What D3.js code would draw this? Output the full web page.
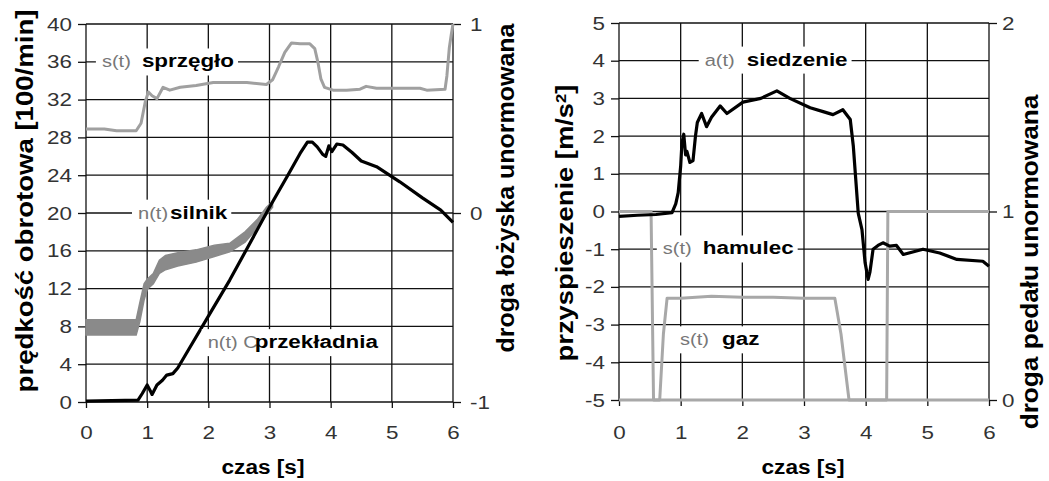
<!DOCTYPE html>
<html>
<head>
<meta charset="utf-8">
<script src="https://cdn.jsdelivr.net/npm/d3@7"></script>
<style>
  body { margin: 0; background: #fff; }
  svg text { font-family: "Liberation Sans", Arial, sans-serif; }
</style>
</head>
<body>
<svg width="1049" height="481"></svg>
<script>
// ---- data ----
var xTicks = [0, 1, 2, 3, 4, 5, 6];
var obrotyTicks = [0, 4, 8, 12, 16, 20, 24, 28, 32, 36, 40];
var lozyskoTicks = [-1, 0, 1];
var przyspTicks = [-5, -4, -3, -2, -1, 0, 1, 2, 3, 4, 5];
var pedalTicks = [0, 1, 2];

// s(t) sprzęgło, droga łożyska unormowana (right axis of left panel)
var tSprzeglo = [0, 0.3, 0.5, 0.82, 0.9, 0.97, 1.02, 1.08, 1.16, 1.26, 1.37, 1.54, 1.8, 2.08, 2.63, 2.95, 3.05, 3.15, 3.25, 3.36, 3.5, 3.66, 3.74, 3.79, 3.84, 3.9, 4.04, 4.26, 4.48, 4.58, 4.75, 5.46, 5.57, 5.87, 5.9, 5.94, 5.97, 6.0];
var sSprzeglo = [0.445, 0.445, 0.435, 0.435, 0.475, 0.59, 0.64, 0.62, 0.605, 0.665, 0.65, 0.665, 0.675, 0.69, 0.69, 0.68, 0.705, 0.775, 0.85, 0.9, 0.895, 0.895, 0.87, 0.8, 0.71, 0.665, 0.65, 0.65, 0.655, 0.67, 0.66, 0.66, 0.65, 0.655, 0.725, 0.875, 0.94, 1.0];

// n(t) silnik, noisy band [100/min]
var tSilnik = [0, 0.82, 0.88, 0.95, 1.0, 1.1, 1.2, 1.3, 1.5, 1.8, 2.1, 2.35, 2.6, 2.8, 2.95, 3.05];
var silnikLo = [7.1, 7.1, 8.5, 10.8, 11.9, 12.5, 13.6, 14.0, 14.4, 14.8, 15.4, 15.9, 16.9, 18.4, 19.8, 20.6];
var silnikHi = [8.7, 8.7, 10.5, 12.5, 13.0, 13.6, 15.0, 15.5, 15.8, 16.1, 16.6, 16.8, 18.0, 19.3, 20.6, 21.2];

// n(t) przekładnia [100/min]
var tPrzekladnia = [0, 0.85, 0.92, 1.0, 1.05, 1.08, 1.16, 1.25, 1.32, 1.42, 1.5, 1.7, 2.03, 2.35, 2.68, 3.0, 3.3, 3.5, 3.62, 3.7, 3.78, 3.87, 3.92, 3.97, 4.02, 4.1, 4.2, 4.35, 4.5, 4.75, 5.13, 5.5, 5.8, 6.0];
var nPrzekladnia = [0.1, 0.2, 0.9, 1.8, 1.2, 0.8, 1.8, 2.3, 2.85, 3.0, 3.6, 5.8, 9.4, 12.9, 16.8, 20.6, 24.0, 26.3, 27.5, 27.5, 27.0, 26.2, 26.0, 27.1, 26.5, 27.3, 27.2, 26.4, 25.5, 24.9, 23.3, 21.6, 20.3, 19.0];

// a(t) siedzenie [m/s2]
var tSiedzenie = [0, 0.3, 0.6, 0.86, 0.92, 0.96, 1.0, 1.02, 1.05, 1.08, 1.1, 1.15, 1.2, 1.24, 1.27, 1.34, 1.42, 1.5, 1.64, 1.75, 2.01, 2.3, 2.56, 2.77, 3.1, 3.31, 3.47, 3.63, 3.75, 3.8, 3.88, 3.94, 3.99, 4.04, 4.07, 4.12, 4.2, 4.28, 4.39, 4.5, 4.61, 4.93, 5.2, 5.48, 5.9, 6.0];
var aSiedzenie = [-0.13, -0.1, -0.08, -0.03, 0.2, 0.5, 1.2, 1.8, 2.05, 1.5, 1.6, 1.3, 1.35, 2.0, 2.36, 2.6, 2.25, 2.5, 2.8, 2.6, 2.9, 3.0, 3.2, 3.0, 2.75, 2.65, 2.57, 2.7, 2.44, 1.73, -0.05, -0.48, -1.35, -1.8, -1.6, -1.0, -0.9, -0.83, -0.92, -0.9, -1.14, -1.0, -1.1, -1.27, -1.32, -1.45];

// s(t) hamulec and s(t) gaz, droga pedału unormowana
var tHamulec = [0, 0.52, 0.56, 4.34, 4.36, 6.0];
var sHamulec = [1, 1, 0, 0, 1, 1];
var tGaz = [0, 0.66, 0.72, 0.78, 1.0, 1.5, 2.0, 2.5, 3.0, 3.5, 3.6, 3.73, 6.0];
var sGaz = [0, 0, 0.35, 0.54, 0.54, 0.55, 0.545, 0.545, 0.54, 0.54, 0.35, 0, 0];

var SX = 1.18;   // lettering in the scan is stretched sideways
var svg = d3.select("svg");

function zip(a, b) { return a.map(function(v, i) { return [v, b[i]]; }); }

// set up one panel: grid, axes, scales
function panel(p) {
  var x = d3.scaleLinear().domain([0, 6]).range([p.x0, p.x1]);
  var y = d3.scaleLinear().domain([p.yTicks[0], p.yTicks[p.yTicks.length - 1]]).range([p.y0, p.y1]);
  var y2 = d3.scaleLinear().domain([p.y2Ticks[0], p.y2Ticks[p.y2Ticks.length - 1]]).range([p.y0, p.y1]);
  var g = svg.append("g");

  g.selectAll(".vg").data(xTicks).enter().append("line")
      .attr("x1", function(d) { return x(d); }).attr("x2", function(d) { return x(d); })
      .attr("y1", p.y0).attr("y2", p.y1)
      .attr("stroke", "#111").attr("stroke-width", 1.3);
  g.selectAll(".hg").data(p.yTicks).enter().append("line")
      .attr("x1", p.x0).attr("x2", p.x1)
      .attr("y1", function(d) { return y(d); }).attr("y2", function(d) { return y(d); })
      .attr("stroke", "#111").attr("stroke-width", 1.3);

  function styleAxis(a) {
    a.attr("font-size", 19).attr("font-family", null);
    a.select(".domain").remove();
    a.selectAll("line").attr("stroke", "#111").attr("stroke-width", 1.3);
    a.selectAll("text").attr("fill", "#333").attr("transform", "scale(" + SX + ",1)");
  }

  g.append("g").attr("transform", "translate(0," + p.y0 + ")")
      .call(d3.axisBottom(x).tickValues(xTicks).tickSize(6).tickPadding(p.bottomPad).tickFormat(String))
      .call(styleAxis);
  g.append("g").attr("transform", "translate(" + p.x0 + ",0)")
      .call(d3.axisLeft(y).tickValues(p.yTicks).tickSize(8).tickPadding(4).tickFormat(String))
      .call(styleAxis);
  g.append("g").attr("transform", "translate(" + p.x1 + ",0)")
      .call(d3.axisRight(y2).tickValues(p.y2Ticks).tickSize(8).tickPadding(p.rightPad).tickFormat(String))
      .call(styleAxis);

  return { x: x, y: y, y2: y2, g: g };
}

function curve(g, x, y, pts, color, w) {
  g.append("path")
      .datum(pts)
      .attr("fill", "none")
      .attr("stroke", color)
      .attr("stroke-width", w)
      .attr("stroke-linejoin", "round")
      .attr("d", d3.line().x(function(d) { return x(d[0]); }).y(function(d) { return y(d[1]); }));
}

// "s(t) name" tags sitting on white boxes
function tag(g, px, py, grayTxt, boldTxt, gap) {
  var box = g.append("rect").attr("fill", "#fff");
  var t1 = g.append("text").attr("transform", "translate(" + px + "," + py + ") scale(" + SX + ",1)")
      .attr("font-size", 17).attr("fill", "#777").text(grayTxt);
  var t2 = g.append("text").attr("transform", "translate(" + (px + gap) + "," + py + ") scale(" + SX + ",1)")
      .attr("font-size", 19).attr("font-weight", "bold").attr("fill", "#000").text(boldTxt);
  var w = gap + t2.node().getComputedTextLength() * SX;
  box.attr("x", px - 6).attr("y", py - 19).attr("width", w + 10).attr("height", 27);
}

// axis titles, fitted to the length they have in the scan
function title(cx, cy, rot, len, size, parts) {
  var t = svg.append("text")
      .attr("text-anchor", "middle")
      .attr("font-size", size).attr("font-weight", "bold").attr("dy", "0.35em");
  parts.forEach(function(p) {
    var s = t.append("tspan").text(p.text);
    if (p.sup) s.attr("font-size", 14).attr("baseline-shift", "super");
  });
  var k = len / t.node().getComputedTextLength();
  t.attr("transform", "translate(" + cx + "," + cy + ") rotate(" + rot + ") scale(" + k + ",1)");
}

// ---- left panel ----
var L = panel({ x0: 86, x1: 453, y0: 402, y1: 24, yTicks: obrotyTicks, y2Ticks: lozyskoTicks, bottomPad: 18, rightPad: 6.5 });
curve(L.g, L.x, L.y2, zip(tSprzeglo, sSprzeglo), "#a0a0a0", 3);
L.g.append("path")
    .datum(tSilnik.map(function(t, i) { return [t, silnikLo[i], silnikHi[i]]; }))
    .attr("fill", "#8a8a8a")
    .attr("stroke", "#8a8a8a").attr("stroke-width", 1.5)
    .attr("d", d3.area()
        .x(function(d) { return L.x(d[0]); })
        .y0(function(d) { return L.y(d[1]); })
        .y1(function(d) { return L.y(d[2]); }));
curve(L.g, L.x, L.y, zip(tPrzekladnia, nPrzekladnia), "#000", 3.2);

tag(L.g, L.x(0.26), L.y(35.4), "s(t)", "sprzęgło", 40);
tag(L.g, L.x(0.85), L.y(19.4), "n(t)", "silnik", 32);
tag(L.g, L.x(1.99), L.y(5.7), "n(t) C", "przekładnia", 47);

// ---- right panel ----
var R = panel({ x0: 619, x1: 989, y0: 400, y1: 23, yTicks: przyspTicks, y2Ticks: pedalTicks, bottomPad: 20, rightPad: 3 });
curve(R.g, R.x, R.y2, zip(tHamulec, sHamulec), "#a8a8a8", 3);
curve(R.g, R.x, R.y2, zip(tGaz, sGaz), "#a8a8a8", 3);
curve(R.g, R.x, R.y, zip(tSiedzenie, aSiedzenie), "#000", 3.2);

tag(R.g, R.x(1.39), R.y(3.87), "a(t)", "siedzenie", 42);
tag(R.g, R.x(0.71), R.y(-1.14), "s(t)", "hamulec", 40);
tag(R.g, R.x(0.99), R.y(-3.55), "s(t)", "gaz", 42);

// ---- titles ----
title(25, 201, -90, 383, 23, [{ text: "prędkość obrotowa [100/min]" }]);
title(506, 188, -90, 329, 23, [{ text: "droga łożyska unormowana" }]);
title(263, 467, 0, 83, 21, [{ text: "czas [s]" }]);
title(565, 223, -90, 277, 23, [{ text: "przyspieszenie [m/s" }, { text: "2", sup: true }, { text: "]" }]);
title(1030, 262, -90, 335, 23, [{ text: "droga pedału unormowana" }]);
title(803, 467, 0, 83, 21, [{ text: "czas [s]" }]);
</script>
</body>
</html>
